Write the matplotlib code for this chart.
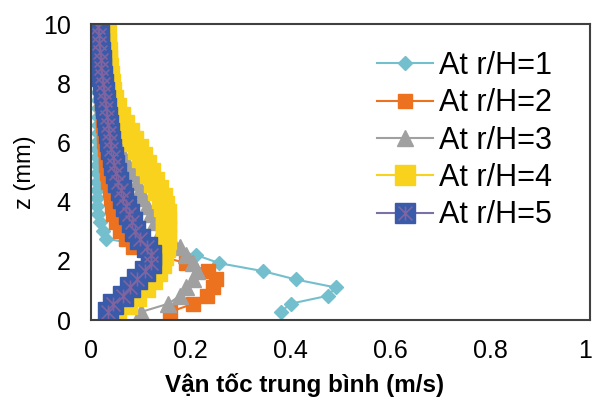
import matplotlib
matplotlib.use("Agg")
import matplotlib.pyplot as plt
from matplotlib.path import Path
from matplotlib.transforms import ScaledTranslation
from matplotlib.legend_handler import HandlerTuple

plt.rcParams['font.family'] = ['Liberation Sans', 'DejaVu Sans']

# heights (mm), same grid for all five profiles
z = [0.27, 0.55, 0.82, 1.1, 1.37, 1.65, 1.92, 2.2, 2.47, 2.75, 3.02, 3.3,
     3.57, 3.85, 4.12, 4.4, 4.67, 4.95, 5.22, 5.5, 5.77, 6.05, 6.32, 6.6,
     6.87, 7.15, 7.42, 7.7, 7.97, 8.25, 8.52, 8.8, 9.07, 9.35, 9.62, 9.9]

# mean velocity (m/s) at each r/H
v_r1 = [0.38, 0.40, 0.475, 0.49, 0.41, 0.345, 0.257, 0.21, 0.12, 0.03, 0.025, 0.018,
        0.015, 0.013, 0.012, 0.012, 0.012, 0.012, 0.012, 0.013, 0.013, 0.014, 0.014, 0.015,
        0.015, 0.015, 0.015, 0.015, 0.015, 0.015, 0.015, 0.015, 0.015, 0.015, 0.015, 0.015]
v_r2 = [0.158, 0.205, 0.232, 0.245, 0.25, 0.235, 0.19, 0.13, 0.085, 0.07, 0.058, 0.05,
        0.045, 0.042, 0.04, 0.038, 0.035, 0.033, 0.031, 0.03, 0.028, 0.027, 0.026, 0.025,
        0.024, 0.023, 0.022, 0.021, 0.02, 0.019, 0.018, 0.018, 0.017, 0.016, 0.016, 0.015]
v_r3 = [0.10, 0.155, 0.178, 0.19, 0.205, 0.213, 0.205, 0.19, 0.178, 0.16, 0.14, 0.128,
        0.12, 0.112, 0.103, 0.098, 0.092, 0.085, 0.075, 0.066, 0.058, 0.052, 0.047, 0.043,
        0.04, 0.037, 0.034, 0.031, 0.029, 0.027, 0.025, 0.023, 0.021, 0.019, 0.017, 0.015]
v_r4 = [0.05, 0.072, 0.09, 0.108, 0.122, 0.132, 0.14, 0.145, 0.148, 0.15, 0.151, 0.151,
        0.15, 0.147, 0.142, 0.135, 0.127, 0.119, 0.11, 0.102, 0.094, 0.085, 0.076, 0.067,
        0.059, 0.051, 0.045, 0.041, 0.038, 0.036, 0.034, 0.033, 0.032, 0.031, 0.03, 0.029]
v_r5 = [0.035, 0.045, 0.064, 0.079, 0.093, 0.108, 0.12, 0.121, 0.112, 0.099, 0.089, 0.082,
        0.076, 0.07, 0.065, 0.06, 0.055, 0.051, 0.047, 0.044, 0.041, 0.039, 0.037, 0.035,
        0.033, 0.031, 0.028, 0.026, 0.024, 0.022, 0.021, 0.02, 0.018, 0.017, 0.016, 0.015]

labels = ['At r/H=1', 'At r/H=2', 'At r/H=3', 'At r/H=4', 'At r/H=5']
x_ticks = [0, 0.2, 0.4, 0.6, 0.8, 1]
x_tick_labels = ['0', '0.2', '0.4', '0.6', '0.8', '1']
y_ticks = [0, 2, 4, 6, 8, 10]

# asterisk drawn on top of the r/H=5 squares
star = Path([(-1, -1), (1, 1), (-1, 1), (1, -1), (0, -1), (0, 1)],
            [Path.MOVETO, Path.LINETO, Path.MOVETO, Path.LINETO, Path.MOVETO, Path.LINETO])

fig = plt.figure(figsize=(5.94, 4.04), dpi=100)
ax = fig.add_axes([91 / 594, 1 - 320 / 404, 499 / 594, 296 / 404])

h1, = ax.plot(v_r1, z, color='#74BFCE', lw=1.5, marker='D', ms=7, mec='#74BFCE')
h2, = ax.plot(v_r2, z, color='#EC7220', lw=1.5, marker='s', ms=10, mec='#EC7220')
h3, = ax.plot(v_r3, z, color='#A0A0A0', lw=1.5, marker='^', ms=11, mec='#A0A0A0')
h4, = ax.plot(v_r4, z, color='#F8D21C', lw=1.5, marker='s', ms=14.5, mec='#F8D21C')
h5, = ax.plot(v_r5, z, color='#7C70A8', lw=1.5, marker='s', ms=14.5,
              mfc='#3A5BAA', mec='#3A5BAA')
h5s, = ax.plot(v_r5, z, ls='none', marker=star, ms=10, mfc='none',
               mec='#7F64A0', mew=1.2)

ax.set_xlim(0, 1)
ax.set_ylim(0, 10)
ax.set_xticks(x_ticks)
ax.set_xticklabels(x_tick_labels)
ax.set_yticks(y_ticks)
ax.tick_params(length=0, labelsize=18)
ax.tick_params(axis='x', pad=14)
ax.tick_params(axis='y', pad=14.5)
for s in ax.spines.values():
    s.set_color('#404040')
    s.set_linewidth(1.5)

# keep the last tick label inside the figure
last = ax.get_xticklabels()[-1]
last.set_transform(last.get_transform() + ScaledTranslation(-0.05, 0, fig.dpi_scale_trans))

ax.set_xlabel('Vận tốc trung bình (m/s)', fontsize=17.5, fontweight='bold', labelpad=7)
ax.xaxis.label.set_x(0.427)
ax.set_ylabel('z (mm)', fontsize=17, labelpad=5)

ax.legend([h1, h2, h3, h4, (h5, h5s)], labels,
          handler_map={tuple: HandlerTuple(ndivide=1)},
          loc='upper left', bbox_to_anchor=(377 / 594, 1 - 51 / 404),
          bbox_transform=fig.transFigure, frameon=False, fontsize=22,
          handlelength=1.83, handletextpad=0.2, labelspacing=0.24,
          borderpad=0, borderaxespad=0)

fig.savefig('out.png', dpi=100)
